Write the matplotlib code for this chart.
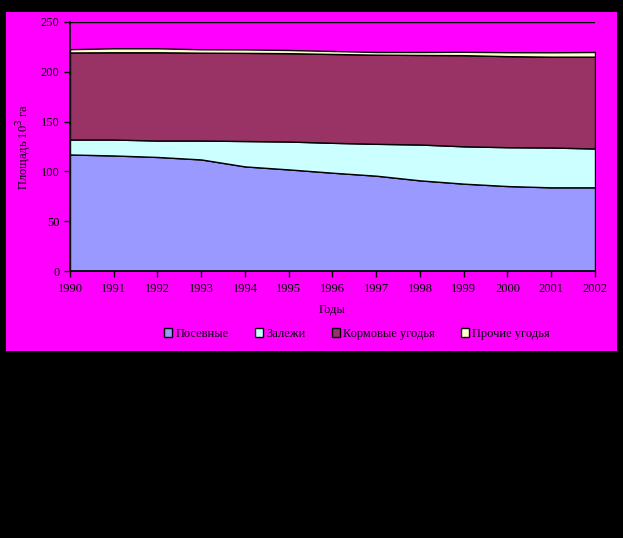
import numpy as np
import matplotlib.pyplot as plt
from matplotlib.patches import Rectangle

# данные (тыс. га)
years = ['1990', '1991', '1992', '1993', '1994', '1995', '1996',
         '1997', '1998', '1999', '2000', '2001', '2002']
posevnye = [117, 116, 114.5, 112, 105, 102, 98.7, 95.7, 91, 87.7, 85.3, 84, 84]
zalezhi = [15, 16, 16.5, 19, 25.5, 28, 30, 32, 36, 37.5, 39, 40, 39]
kormovye = [87.4, 87.6, 88.6, 88.2, 88.5, 88.7, 89.2, 89.5, 89.9, 91.5, 91.4, 91.2, 92.2]
prochie = [3.3, 4, 4, 3.4, 3.5, 3.2, 3, 2.7, 3, 3.4, 4, 4.4, 4.7]

names = ['Посевные', 'Залежи', 'Кормовые угодья', 'Прочие угодья']
colors = ['#9999FF', '#CCFFFF', '#993366', '#FFFFCC']

plt.rcParams['font.family'] = ['Liberation Serif', 'DejaVu Serif']

fig = plt.figure(figsize=(6.23, 5.38), dpi=100, facecolor='black')
# розовая подложка диаграммы
fig.patches.append(Rectangle((6 / 623, 1 - 351 / 538), 611 / 623, 339 / 538,
                             transform=fig.transFigure, facecolor='#FF00FF',
                             edgecolor='none', zorder=-1))

ax = fig.add_axes([70 / 623, 1 - 271 / 538, 525 / 623, 249 / 538])
ax.set_zorder(1)
ax.set_facecolor('#FF00FF')

x = np.arange(len(years))
polys = ax.stackplot(x, posevnye, zalezhi, kormovye, prochie,
                     colors=colors, labels=names,
                     edgecolor='black', linewidth=1)

ax.set_xlim(0, len(years) - 1)
ax.set_ylim(0, 250)
ax.set_yticks(np.arange(0, 251, 50))
ax.set_xticks(x)
ax.set_xticklabels(years)
ax.yaxis.grid(True, color='black', linewidth=1)
ax.set_axisbelow(True)

for s in ['top', 'right']:
    ax.spines[s].set_visible(False)
for s in ['left', 'bottom']:
    ax.spines[s].set_linewidth(1.2)
    ax.spines[s].set_zorder(5)

ax.tick_params(axis='both', direction='out', length=4, width=1,
               labelsize=9, color='black', labelcolor='black')
ax.tick_params(axis='x', pad=5)

ax.set_xlabel('Годы', fontsize=9, labelpad=6)
ax.set_ylabel('Площадь 10$^3$ га', fontsize=9, labelpad=5)

ax.legend(loc='center', bbox_to_anchor=(357 / 623, 1 - 334 / 538),
          bbox_transform=fig.transFigure, ncol=4, frameon=False,
          fontsize=9, handlelength=0.65, handleheight=0.65,
          handletextpad=0.25, columnspacing=2.1)

fig.savefig('out.png', dpi=100, facecolor='black')
